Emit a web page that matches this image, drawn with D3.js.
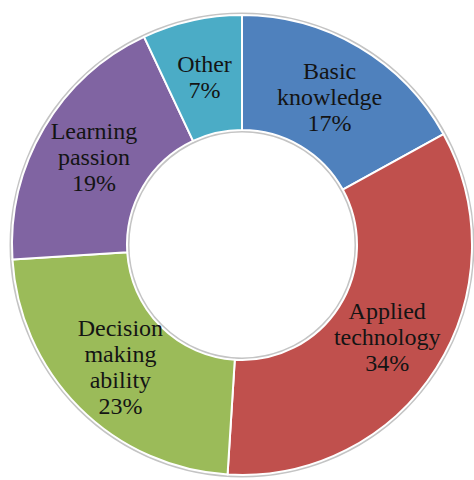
<!DOCTYPE html>
<html>
<head>
<meta charset="utf-8">
<script src="https://cdn.jsdelivr.net/npm/d3@7"></script>
<style>
  html, body { margin: 0; padding: 0; background: #ffffff; }
  svg { display: block; }
</style>
</head>
<body>
<svg id="chart" width="474" height="480"></svg>
<script>
// Share of each competence, in percent, clockwise from 12 o'clock
const categories = ["Basic knowledge", "Applied technology", "Decision making ability", "Learning passion", "Other"];
const labelLines = [["Basic", "knowledge"], ["Applied", "technology"], ["Decision", "making", "ability"], ["Learning", "passion"], ["Other"]];
const values = [17, 34, 23, 19, 7];
const colors = ["#4f81bd", "#c0504d", "#9bbb59", "#8064a2", "#4bacc6"];

// pick the first installed serif face (compared against a monospace fallback)
function pickFont(candidates) {
  const ctx = document.createElement("canvas").getContext("2d");
  const sample = "Basic knowledge 17% mmmwwwiii";
  ctx.font = "40px monospace";
  const base = ctx.measureText(sample).width;
  for (const f of candidates) {
    ctx.font = `40px "${f}", monospace`;
    if (Math.abs(ctx.measureText(sample).width - base) > 0.5) return `"${f}", serif`;
  }
  return "serif";
}
const labelFont = pickFont(["Liberation Serif", "Tinos", "Times New Roman", "DejaVu Serif", "Noto Serif"]);

const svg = d3.select("#chart");
const cx = 242, cy = 245;
const outerR = 230, innerR = 115;

const g = svg.append("g").attr("transform", `translate(${cx},${cy})`);

// soft grey rim around the ring and the hole
g.append("circle").attr("r", outerR + 1)
  .attr("fill", "none").attr("stroke", "#c4c4c4").attr("stroke-width", 3);
g.append("circle").attr("r", innerR - 1)
  .attr("fill", "none").attr("stroke", "#c4c4c4").attr("stroke-width", 3);

const pie = d3.pie().value(d => d).sort(null);
const arcs = pie(values);

const arc = d3.arc().innerRadius(innerR).outerRadius(outerR);
const labelArc = d3.arc().innerRadius(172).outerRadius(172);

g.selectAll("path.slice")
  .data(arcs)
  .join("path")
  .attr("class", "slice")
  .attr("d", arc)
  .attr("fill", (d, i) => colors[i])
  .attr("stroke", "#ffffff")
  .attr("stroke-width", 2)
  .attr("stroke-linejoin", "round");

const lineH = 26;
g.selectAll("text.lbl")
  .data(arcs)
  .join("text")
  .attr("class", "lbl")
  .attr("text-anchor", "middle")
  .style("font-family", labelFont)
  .style("font-size", "24px")
  .attr("fill", "#141414")
  .each(function (d, i) {
    const [x, y] = labelArc.centroid(d);
    const lines = labelLines[i].concat([values[i] + "%"]);
    const top = y - (lines.length - 1) * lineH / 2 + 8;
    const t = d3.select(this);
    lines.forEach((s, k) => {
      t.append("tspan").attr("x", x).attr("y", top + k * lineH).text(s);
    });
  });
</script>
</body>
</html>
